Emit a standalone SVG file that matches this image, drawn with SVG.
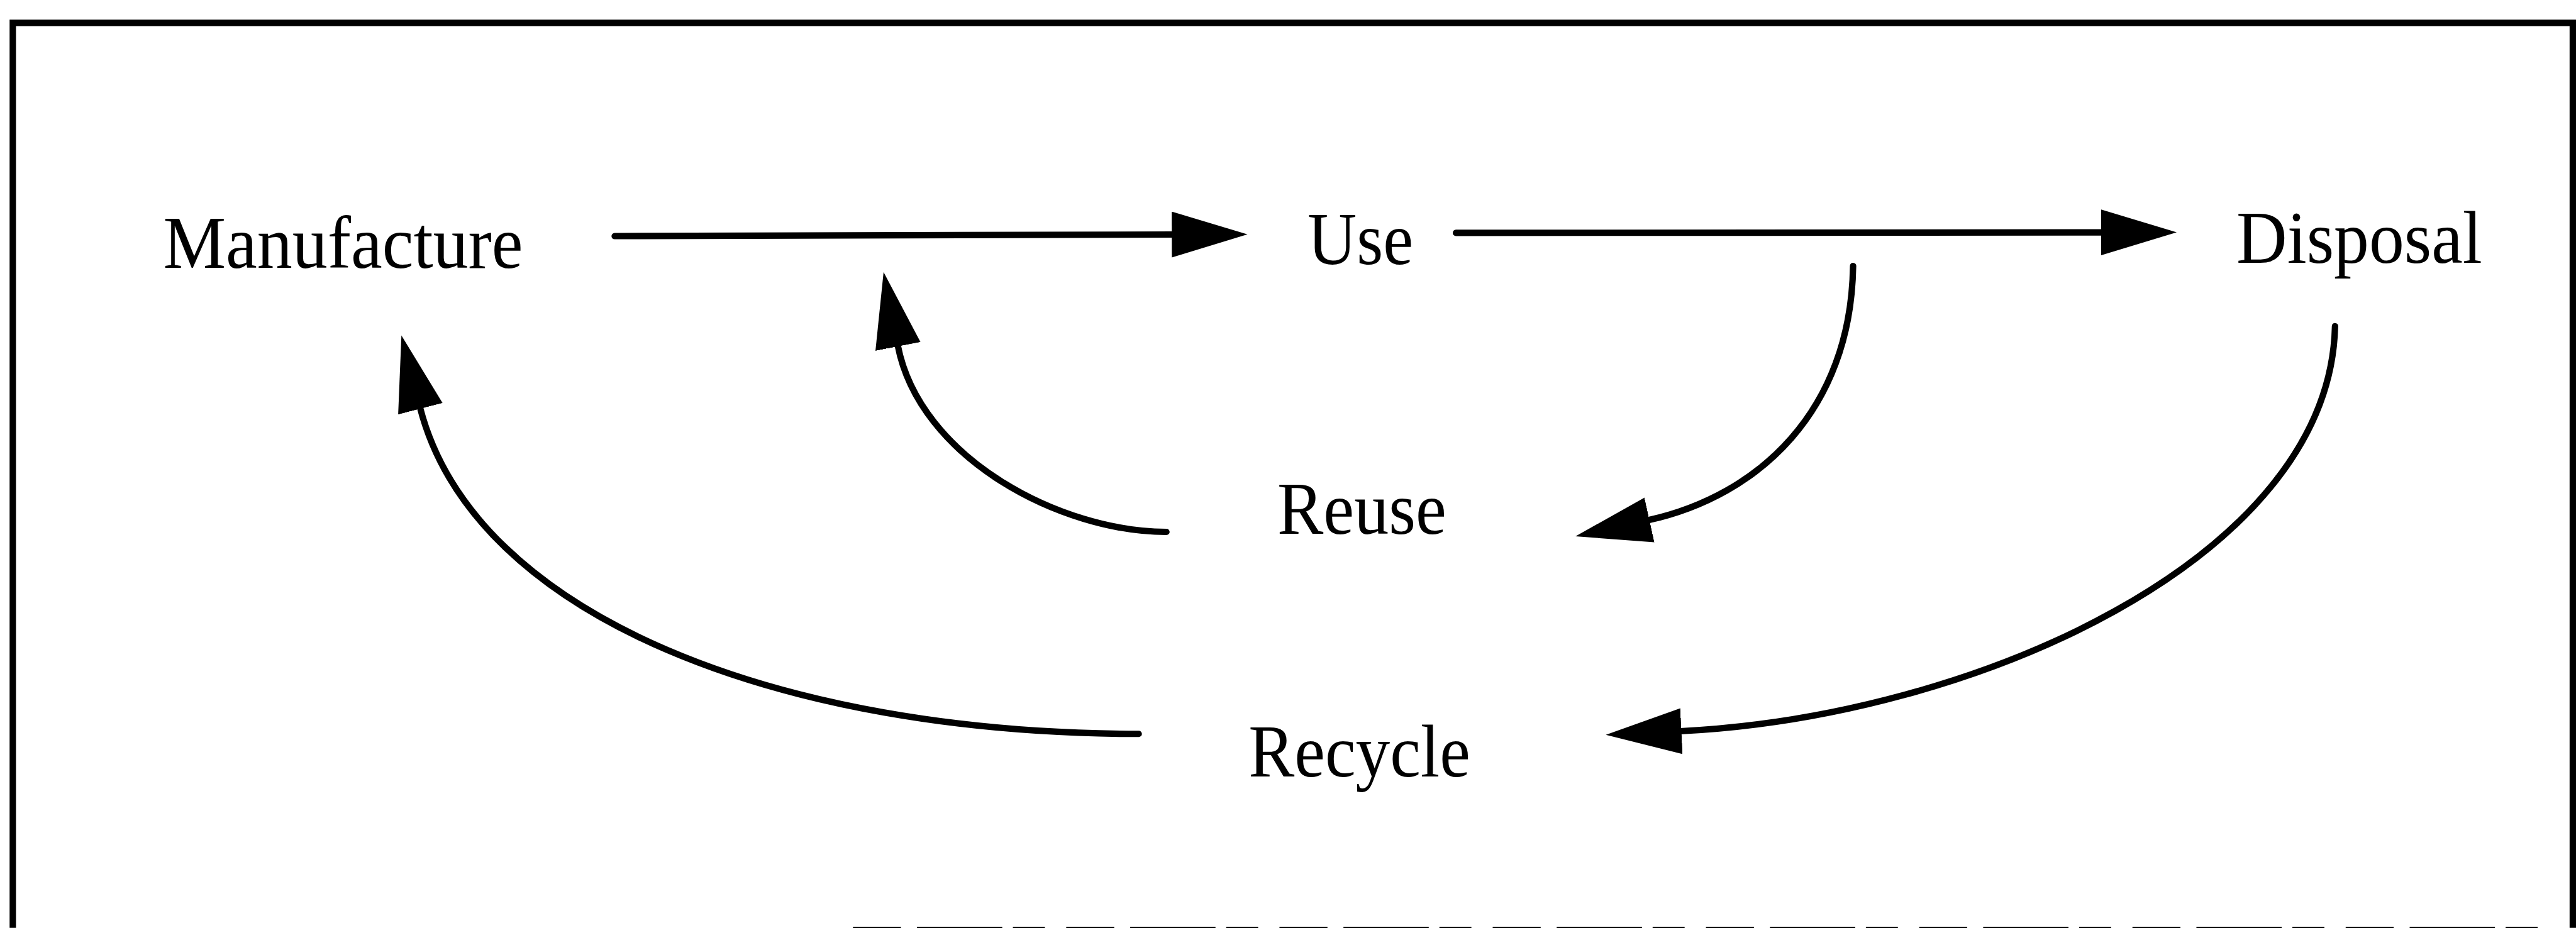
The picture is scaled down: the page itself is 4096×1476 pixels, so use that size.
<svg xmlns="http://www.w3.org/2000/svg" width="4096" height="1476" viewBox="0 0 4096 1476">
<style>
.lbl{font-family:"Liberation Serif","Times New Roman",serif;font-size:140px;fill:#000}
.con{fill:none;stroke:#000;stroke-width:12;stroke-linecap:round}
.frame{fill:none;stroke:#000;stroke-width:12}
</style>
<defs>
<marker id="ah" markerUnits="userSpaceOnUse" markerWidth="150" markerHeight="100" refX="2" refY="43" orient="auto">
<path d="M0,0 L142,43 L0,86 Z" fill="#000"/>
</marker>
</defs>
<rect width="4096" height="1476" fill="#fff"/>
<g transform="scale(0.84768)">
<g id="frame">
<path class="frame" d="M24,1741 L24,43 L4826,43 L4826,1741"/>
<line x1="1600" y1="1742" x2="4790" y2="1742" stroke="#000" stroke-width="6" stroke-dasharray="90 30 160 20 60 40"/>
</g>
<g id="node-manufacture"><text class="lbl" x="306" y="503" textLength="675" lengthAdjust="spacingAndGlyphs">Manufacture</text></g>
<g id="node-use"><text class="lbl" x="2453" y="496" textLength="198" lengthAdjust="spacingAndGlyphs">Use</text></g>
<g id="node-disposal"><text class="lbl" x="4195" y="493" textLength="461" lengthAdjust="spacingAndGlyphs">Disposal</text></g>
<g id="node-reuse"><text class="lbl" x="2396" y="1002" textLength="317" lengthAdjust="spacingAndGlyphs">Reuse</text></g>
<g id="node-recycle"><text class="lbl" x="2342" y="1457" textLength="416" lengthAdjust="spacingAndGlyphs">Recycle</text></g>
<g id="connectors">
<path class="con" d="M1153,443 L2200,440" marker-end="url(#ah)"/>
<path class="con" d="M2731,437 L3943,436" marker-end="url(#ah)"/>
<path class="con" d="M3476,499 C3472,770 3300,930 3092,976" marker-end="url(#ah)"/>
<path class="con" d="M2188,998 C1990,998 1725,860 1684,648" marker-end="url(#ah)"/>
<path class="con" d="M4380,612 C4370,1050 3700,1345 3152,1372" marker-end="url(#ah)"/>
<path class="con" d="M2136,1377 C1470,1377 890,1160 788,765" marker-end="url(#ah)"/>
</g>
</g>
</svg>
